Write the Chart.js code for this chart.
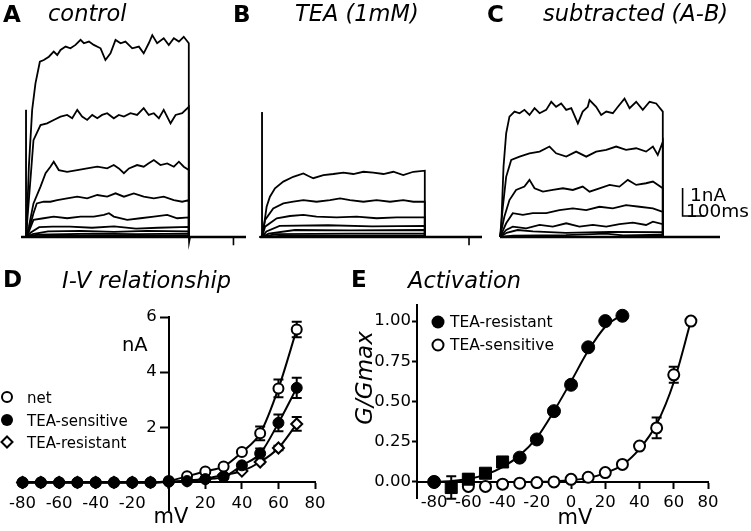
<!DOCTYPE html>
<html><head><meta charset="utf-8">
<script src="https://cdn.jsdelivr.net/npm/chart.js@4.4.1/dist/chart.umd.min.js"></script>
<style>
html,body{margin:0;padding:0;background:#fff;width:751px;height:531px;overflow:hidden;position:relative}
canvas{position:absolute}
#ov{position:absolute;left:0;top:0;pointer-events:none}
</style></head><body>
<canvas id="cA" width="264" height="220" style="left:4px;top:30px"></canvas>
<canvas id="cB" width="264" height="220" style="left:240px;top:30px"></canvas>
<canvas id="cC" width="264" height="220" style="left:478px;top:30px"></canvas>
<canvas id="cD" width="350" height="236" style="left:0px;top:295px"></canvas>
<canvas id="cE" width="391" height="241" style="left:360px;top:290px"></canvas>
<svg id="ov" width="751" height="531" font-family="DejaVu Sans">
  <g font-weight="bold" font-size="23">
    <text x="3" y="22">A</text><text x="233" y="22">B</text><text x="487" y="22">C</text>
    <text x="3" y="287">D</text><text x="351" y="287">E</text>
  </g>
  <g font-style="italic" font-size="22.5">
    <text x="48" y="21">control</text>
    <text x="295" y="21">TEA (1mM)</text>
    <text x="543" y="21">subtracted (A-B)</text>
    <text x="62" y="288">I-V relationship</text>
    <text x="408" y="288">Activation</text>
  </g>
  <g font-size="18.5">
    <text x="690" y="201">1nA</text>
    <text x="686" y="217">100ms</text>
  </g>
  <text x="122" y="351" font-size="19.5">nA</text>
  <text x="171" y="523" font-size="21" text-anchor="middle">mV</text>
  <text x="575" y="524" font-size="21" text-anchor="middle">mV</text>
  <text transform="translate(372,378) rotate(-90)" font-size="23" font-style="italic" text-anchor="middle">G/Gmax</text>
  <!-- legend D -->
  <circle cx="7" cy="397" r="5" fill="#fff" stroke="#000" stroke-width="2"/>
  <circle cx="7" cy="420" r="6" fill="#000"/>
  <polygon points="7,436.5 12.5,442 7,447.5 1.5,442" fill="#fff" stroke="#000" stroke-width="2"/>
  <g font-size="15">
    <text x="27" y="403">net</text>
    <text x="27" y="426">TEA-sensitive</text>
    <text x="27" y="448">TEA-resistant</text>
  </g>
  <!-- legend E -->
  <circle cx="438" cy="322" r="6.5" fill="#000"/>
  <circle cx="438" cy="345" r="5.5" fill="#fff" stroke="#000" stroke-width="2"/>
  <g font-size="15.5">
    <text x="450" y="327">TEA-resistant</text>
    <text x="450" y="350">TEA-sensitive</text>
  </g>
</svg>
<script>
// ---------- Panel A/B/C : current traces (time ms, current nA) ----------
const stepOnMs = 0, stepOffMs = 740, recordEndMs = 1000;
const controlSpikeNa = 4.54, teaSpikeNa = 4.46;
const controlSweeps = [
 [[2,0.07],[13,2.51],[28,4.54],[43,5.49],[63,6.26],[81,6.32],[104,6.44],[126,6.62],[142,6.5],[157,6.68],[180,6.8],[202,6.74],[225,6.86],[248,7.04],[263,6.92],[286,6.98],[308,6.86],[339,6.74],[361,6.32],[384,6.56],[407,7.04],[430,6.92],[452,6.98],[483,6.74],[513,6.8],[535,6.56],[558,6.92],[574,7.21],[596,6.92],[626,7.1],[649,6.86],[672,7.1],[695,6.98],[717,7.15],[740,6.92]],
 [[13,1.32],[34,3.46],[66,4.0],[96,4.06],[126,4.18],[157,4.3],[187,4.36],[210,4.24],[233,4.54],[255,4.3],[278,4.18],[301,4.36],[324,4.24],[346,4.36],[369,4.42],[399,4.24],[422,4.36],[445,4.3],[475,4.42],[505,4.36],[535,4.6],[558,4.36],[581,4.42],[604,4.24],[626,4.54],[657,4.06],[680,4.36],[710,4.42],[740,4.65]],
 [[13,0.37],[34,1.2],[66,1.8],[89,2.28],[111,2.51],[126,2.69],[149,2.39],[187,2.33],[233,2.39],[278,2.45],[324,2.51],[369,2.45],[399,2.57],[422,2.45],[445,2.28],[468,2.45],[505,2.57],[535,2.51],[558,2.63],[581,2.75],[611,2.57],[642,2.63],[672,2.51],[695,2.69],[717,2.51],[740,2.39]],
 [[13,0.25],[34,0.85],[49,1.2],[80,1.26],[111,1.26],[142,1.32],[187,1.38],[233,1.44],[278,1.38],[324,1.5],[369,1.44],[407,1.56],[445,1.44],[490,1.56],[535,1.44],[581,1.38],[626,1.44],[672,1.32],[710,1.26],[740,1.32]],
 [[13,0.19],[34,0.61],[80,0.67],[126,0.73],[187,0.67],[248,0.73],[308,0.73],[354,0.79],[377,0.85],[399,0.73],[460,0.61],[520,0.67],[581,0.73],[642,0.79],[687,0.67],[740,0.7]],
 [[20,0.15],[60,0.35],[120,0.37],[200,0.37],[300,0.33],[400,0.38],[500,0.3],[600,0.33],[740,0.36]],
 [[30,0.1],[100,0.2],[250,0.22],[400,0.18],[550,0.22],[740,0.2]],
 [[50,0.08],[300,0.12],[500,0.1],[740,0.12]],
 [[100,0.05],[400,0.06],[740,0.05]]
];
const teaSweeps = [
 [[6,0.25],[21,1.08],[36,1.44],[59,1.74],[97,1.98],[142,2.15],[188,2.27],[211,2.18],[233,2.1],[279,2.21],[324,2.25],[370,2.3],[415,2.25],[461,2.33],[506,2.3],[552,2.25],[597,2.33],[642,2.21],[688,2.33],[740,2.37]],
 [[14,0.61],[51,1.02],[97,1.2],[142,1.26],[188,1.32],[248,1.26],[309,1.32],[355,1.38],[400,1.32],[461,1.26],[521,1.32],[582,1.26],[642,1.32],[688,1.26],[740,1.26]],
 [[14,0.37],[67,0.67],[127,0.75],[188,0.79],[248,0.73],[339,0.7],[430,0.73],[521,0.67],[612,0.7],[740,0.7]],
 [[20,0.2],[80,0.4],[300,0.42],[500,0.38],[740,0.4]],
 [[30,0.12],[150,0.25],[400,0.24],[740,0.25]],
 [[60,0.1],[400,0.12],[740,0.12]],
 [[100,0.05],[740,0.05]]
];
const subtractedSweeps = [
 [[5,0.25],[16,2.51],[28,3.7],[43,4.3],[66,4.48],[89,4.42],[111,4.54],[134,4.36],[157,4.6],[180,4.42],[210,4.54],[233,4.83],[255,4.65],[278,4.77],[301,4.54],[324,4.6],[354,4.06],[376,4.48],[399,4.65],[407,4.89],[437,4.65],[460,4.36],[483,4.48],[513,4.42],[536,4.65],[566,4.94],[589,4.6],[619,4.83],[649,4.54],[680,4.83],[710,4.77],[740,4.48]],
 [[13,1.08],[28,2.15],[51,2.75],[89,2.87],[134,2.99],[180,3.05],[225,3.23],[255,2.99],[301,2.87],[346,3.05],[392,2.87],[437,3.05],[483,3.11],[528,3.23],[573,3.11],[619,3.17],[664,3.05],[695,3.23],[717,2.93],[740,3.4]],
 [[20,0.73],[43,1.32],[73,1.68],[111,1.8],[134,2.04],[157,1.74],[195,1.62],[240,1.68],[286,1.74],[331,1.68],[376,1.8],[407,1.62],[452,1.74],[498,1.86],[543,1.8],[581,2.04],[619,1.86],[664,1.92],[695,1.98],[740,1.74]],
 [[28,0.49],[58,0.85],[104,0.79],[149,0.85],[210,0.85],[270,0.96],[331,1.02],[392,0.96],[452,1.08],[513,1.02],[573,1.14],[634,1.08],[695,1.02],[740,0.9]],
 [[28,0.25],[58,0.37],[119,0.31],[180,0.43],[240,0.37],[301,0.49],[361,0.37],[422,0.43],[483,0.37],[543,0.46],[604,0.51],[664,0.43],[695,0.55],[740,0.46]],
 [[30,0.15],[80,0.25],[150,0.2],[300,0.15],[500,0.18],[740,0.17]],
 [[60,0.05],[300,0.07],[480,0.12],[560,0.06],[740,0.08]]
];
const stepOffArtifactA = [[740,0],[741,-0.21],[746,0]];
const baselineMarkA = [[943,0],[943,-0.29]];
const baselineMarkB = [[941,0],[941,-0.29]];
const scaleBarMs = [830, 830, 930];
const scaleBarNa = [1.75, 0.75, 0.75];

// ---------- Panel D : I-V relationship ----------
const ivVoltage   = [-80,-70,-60,-50,-40,-30,-20,-10,0,10,20,30,40,50,60,70];
const ivNet       = [0,0,0,0,0,0,0,0,0.05,0.22,0.4,0.58,1.1,1.78,3.41,5.55];
const ivNetErr    = [0,0,0,0,0,0,0,0,0,0.03,0.04,0.05,0.08,0.25,0.32,0.28];
const ivSensitive = [0,0,0,0,0,0,0,0,0.03,0.05,0.12,0.2,0.62,1.05,2.16,3.43];
const ivSensitiveErr = [0,0,0,0,0,0,0,0,0,0,0,0.03,0.06,0.18,0.3,0.37];
const ivResistant = [0,0,0,0,0,0,0,0,0.02,0.06,0.13,0.27,0.41,0.74,1.25,2.12];
const ivResistantErr = [0,0,0,0,0,0,0,0,0,0,0,0.02,0.03,0.05,0.08,0.25];
const ivXTicks = [-80,-60,-40,-20,0,20,40,60,80];
const ivYTicks = [2,4,6];

// ---------- Panel E : activation ----------
const actVoltageR  = [-80,-70,-60,-50,-40,-30,-20,-10,0,10,20,30];
const actResistant = [0,-0.035,0.017,0.054,0.124,0.151,0.264,0.44,0.604,0.837,1.0,1.033];
const actResistantErr = [0,0.07,0.03,0.02,0.03,0.01,0,0,0,0,0,0];
const actResistantStyle = ['circle','rect','rect','rect','rect','circle','circle','circle','circle','circle','circle','circle'];
const actVoltageS  = [-80,-70,-60,-50,-40,-30,-20,-10,0,10,20,30,40,50,60,70];
const actSensitive = [0,null,-0.028,-0.028,-0.014,-0.008,-0.004,0,0.016,0.029,0.058,0.109,0.223,0.336,0.666,1.0];
const actSensitiveErr = [0,0,0,0,0.02,0,0,0,0,0,0,0,0,0.065,0.05,0];
const fitVoltageR  = [-80,-70,-60,-50,-40,-30,-20,-10,0,10,20,30];
const fitResistant = [0.0,0.005,0.018,0.045,0.092,0.165,0.275,0.44,0.625,0.815,0.965,1.04];
const fitVoltageS  = [-20,-10,0,10,20,30,40,50,60,70];
const fitSensitive = [0.0,0.003,0.01,0.025,0.055,0.105,0.205,0.36,0.62,1.0];
const actXTicks = [-80,-60,-40,-20,0,20,40,60,80];
const actYTicks = [0,0.25,0.5,0.75,1.0];

// ---------- helpers ----------
Chart.defaults.font.family = 'DejaVu Sans';
Chart.defaults.color = '#000';
const pairs = arr => arr.map(([x,y]) => ({x, y}));
const zip = (xs, ys) => xs.map((x,i) => ({x, y: ys[i]}));

function sweepData(points, startMs) {
  return [{x:startMs,y:0},{x:stepOnMs,y:0}].concat(pairs(points), [{x:stepOffMs,y:0},{x:recordEndMs,y:0}]);
}
function lineDs(data, w) {
  return {data, showLine:true, borderColor:'#000', borderWidth:w, pointRadius:0, tension:0, clip:false};
}
function traceChart(id, sweeps, startMs, spikeNa, extras) {
  const datasets = [lineDs([{x:startMs,y:0},{x:recordEndMs,y:0}], 2.6)];
  if (spikeNa) datasets.push(lineDs([{x:-0.5,y:0},{x:0,y:spikeNa},{x:0.5,y:0}], 1));
  sweeps.forEach(s => datasets.push(lineDs(sweepData(s, startMs), 1.8)));
  extras.forEach(e => datasets.push(lineDs(e, 1.6)));
  new Chart(document.getElementById(id), {
    type:'scatter',
    data:{datasets},
    options:{
      responsive:false, animation:false, events:[],
      layout:{padding:0},
      plugins:{legend:{display:false}, tooltip:{enabled:false}},
      scales:{
        x:{type:'linear', display:false, min:-100, max:1100},
        y:{type:'linear', display:false, min:-0.464, max:7.393}
      }
    }
  });
}
traceChart('cA', controlSweeps, -22, controlSpikeNa, [pairs(stepOffArtifactA), pairs(baselineMarkA)]);
traceChart('cB', teaSweeps, -10, teaSpikeNa, [pairs(baselineMarkB)]);
traceChart('cC', subtractedSweeps, 0, 0, [zip(scaleBarMs, scaleBarNa)]);

const errorBars = {
  id:'errorBars',
  beforeDatasetsDraw(chart) {
    const ctx = chart.ctx, xs = chart.scales.x, ys = chart.scales.y;
    chart.data.datasets.forEach(ds => {
      if (!ds.errors) return;
      ds.data.forEach((p, j) => {
        const e = ds.errors[j]; if (!e || p.y === null) return;
        const px = xs.getPixelForValue(p.x);
        const t = ys.getPixelForValue(p.y + e), b = ys.getPixelForValue(p.y - e);
        ctx.save(); ctx.strokeStyle = '#000'; ctx.lineWidth = 2;
        ctx.beginPath();
        ctx.moveTo(px, t); ctx.lineTo(px, b);
        ctx.moveTo(px - 5, t); ctx.lineTo(px + 5, t);
        ctx.moveTo(px - 5, b); ctx.lineTo(px + 5, b);
        ctx.stroke(); ctx.restore();
      });
    });
  }
};
const tickFont = {family:'DejaVu Sans', size:16.5};
const axisBase = (len) => ({
  grid:{display:true, drawOnChartArea:false, drawTicks:true, tickLength:len, tickColor:'#000', tickWidth:2},
  border:{display:true, color:'#000', width:2}
});

// Panel D
new Chart(document.getElementById('cD'), {
  type:'scatter',
  data:{datasets:[
    {label:'TEA-sensitive', data:zip(ivVoltage, ivSensitive), errors:ivSensitiveErr, showLine:true, cubicInterpolationMode:'monotone',
     borderColor:'#000', borderWidth:2, pointRadius:5.5, pointBackgroundColor:'#000', pointBorderColor:'#000', pointBorderWidth:1, order:1, clip:false},
    {label:'net', data:zip(ivVoltage, ivNet), errors:ivNetErr, showLine:true, cubicInterpolationMode:'monotone',
     borderColor:'#000', borderWidth:2, pointRadius:5, pointBackgroundColor:'#fff', pointBorderColor:'#000', pointBorderWidth:2, order:2, clip:false},
    {label:'TEA-resistant', data:zip(ivVoltage, ivResistant), errors:ivResistantErr, showLine:true, cubicInterpolationMode:'monotone',
     borderColor:'#000', borderWidth:2, pointStyle:'rectRot', pointRadius:5.5, pointBackgroundColor:'#fff', pointBorderColor:'#000', pointBorderWidth:2, order:3, clip:false}
  ]},
  options:{
    responsive:false, animation:false, events:[],
    layout:{padding:{left:18, right:35, top:22, bottom:21}},
    plugins:{legend:{display:false}, tooltip:{enabled:false}},
    scales:{
      x:Object.assign(axisBase(6), {type:'linear', position:{y:0}, min:-82.5, max:80,
        afterFit:s => { s.height = 0; },
        afterBuildTicks:s => { s.ticks = ivXTicks.map(v => ({value:v})); },
        ticks:{font:tickFont, color:'#000', padding:5, maxRotation:0, autoSkip:false, callback:v => v === 0 ? '' : String(v)}}),
      y:Object.assign(axisBase(8), {type:'linear', position:{x:0}, min:-1, max:6,
        afterFit:s => { s.width = 0; },
        afterBuildTicks:s => { s.ticks = ivYTicks.map(v => ({value:v})); },
        // labels of an axis placed at x=0 are right-aligned on the axis line; the spaces clear the tick marks
        ticks:{font:tickFont, color:'#000', callback:v => String(v) + '\u2007\u200A'}})
    }
  },
  plugins:[errorBars]
});

// Panel E
new Chart(document.getElementById('cE'), {
  type:'scatter',
  data:{datasets:[
    {label:'TEA-resistant', data:zip(actVoltageR, actResistant), errors:actResistantErr, showLine:false,
     pointStyle:actResistantStyle, pointRadius:actResistantStyle.map(s => s === 'rect' ? 8.5 : 6.5),
     pointBackgroundColor:'#000', pointBorderColor:'#000', pointBorderWidth:1, order:1, clip:false},
    {label:'TEA-sensitive', data:zip(actVoltageS, actSensitive), errors:actSensitiveErr, showLine:false,
     pointRadius:5.5, pointBackgroundColor:'#fff', pointBorderColor:'#000', pointBorderWidth:2, order:2, clip:false},
    {label:'fit resistant', data:zip(fitVoltageR, fitResistant), showLine:true, cubicInterpolationMode:'monotone',
     borderColor:'#000', borderWidth:2, pointRadius:0, order:3, clip:false},
    {label:'fit sensitive', data:zip(fitVoltageS, fitSensitive), showLine:true, cubicInterpolationMode:'monotone',
     borderColor:'#000', borderWidth:2, pointRadius:0, order:4, clip:false}
  ]},
  options:{
    responsive:false, animation:false, events:[],
    layout:{padding:{left:0, right:43, top:15, bottom:33}},
    plugins:{legend:{display:false}, tooltip:{enabled:false}},
    scales:{
      x:Object.assign(axisBase(6), {type:'linear', position:{y:0}, min:-90, max:80,
        afterFit:s => { s.height = 0; },
        afterBuildTicks:s => { s.ticks = actXTicks.map(v => ({value:v})); },
        ticks:{font:tickFont, color:'#000', padding:5, maxRotation:0, autoSkip:false, callback:v => String(v)}}),
      y:Object.assign(axisBase(5), {type:'linear', position:'left', min:-0.1, max:1.1,
        afterFit:s => { s.width = 57; },
        afterBuildTicks:s => { s.ticks = actYTicks.map(v => ({value:v})); },
        ticks:{font:tickFont, color:'#000', padding:1, callback:v => Number(v).toFixed(2)}})
    }
  },
  plugins:[errorBars]
});
</script>
</body></html>
